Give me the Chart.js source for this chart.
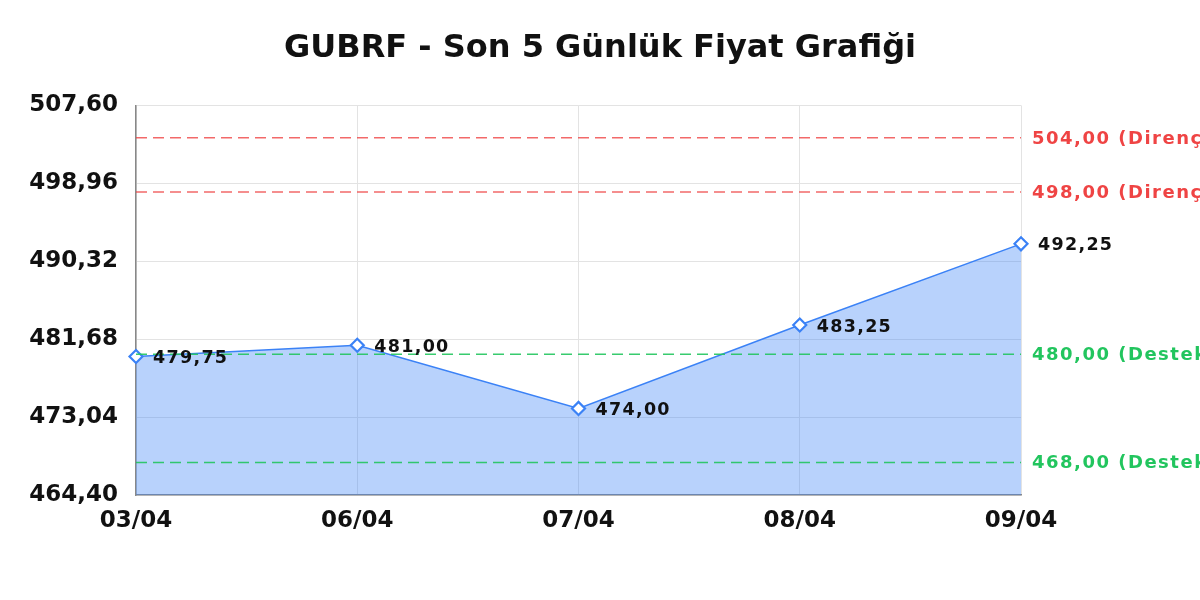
<!DOCTYPE html>
<html>
<head>
<meta charset="utf-8">
<script src="https://cdn.jsdelivr.net/npm/chart.js@4"></script>
<style>
html,body{margin:0;padding:0;background:#fff;}
#wrap{width:1200px;height:600px;}
</style>
</head>
<body>
<div id="wrap"><canvas id="c" width="1200" height="600"></canvas></div>
<script>
const titleText = 'GUBRF - Son 5 Günlük Fiyat Grafiği';
const dates = ['03/04', '06/04', '07/04', '08/04', '09/04'];
const prices = [479.75, 481.00, 474.00, 483.25, 492.25];
const yTickValues = [464.40, 473.04, 481.68, 490.32, 498.96, 507.60];
const resistanceLevels = [504.00, 498.00];
const supportLevels = [480.00, 468.00];

const FONT = "'DejaVu Sans', sans-serif";
const fmt = v => v.toFixed(2).replace('.', ',');

const levelLines = [
  ...resistanceLevels.map(v => ({ value: v, label: fmt(v) + ' (Direnç)', color: '#ef4444', line: 'rgba(239,68,68,0.8)' })),
  ...supportLevels.map(v => ({ value: v, label: fmt(v) + ' (Destek)', color: '#22c55e', line: 'rgba(34,197,94,0.9)' }))
];

const overlayPlugin = {
  id: 'overlay',
  afterDatasetsDraw(chart) {
    const ctx = chart.ctx;
    const area = chart.chartArea;
    const y = chart.scales.y;
    ctx.save();
    levelLines.forEach(l => {
      const py = y.getPixelForValue(l.value);
      ctx.beginPath();
      ctx.setLineDash([11, 6]);
      ctx.lineWidth = 1.5;
      ctx.strokeStyle = l.line;
      ctx.moveTo(area.left, py);
      ctx.lineTo(area.right, py);
      ctx.stroke();
      ctx.setLineDash([]);
      ctx.font = 'bold 18px ' + FONT;
      if ('letterSpacing' in ctx) ctx.letterSpacing = '1.5px';
      ctx.fillStyle = l.color;
      ctx.textAlign = 'left';
      ctx.textBaseline = 'middle';
      ctx.fillText(l.label, area.right + 11, py + 1);
    });
    const meta = chart.getDatasetMeta(0);
    ctx.font = 'bold 17.5px ' + FONT;
    if ('letterSpacing' in ctx) ctx.letterSpacing = '1.3px';
    ctx.fillStyle = '#111';
    ctx.textAlign = 'left';
    ctx.textBaseline = 'middle';
    meta.data.forEach((pt, i) => {
      ctx.fillText(fmt(prices[i]), pt.x + 17, pt.y + 2);
    });
    if ('letterSpacing' in ctx) ctx.letterSpacing = '0px';
    ctx.restore();
  }
};

new Chart(document.getElementById('c'), {
  type: 'line',
  data: {
    labels: dates,
    datasets: [{
      data: prices,
      yAxisID: 'y',
      borderColor: '#3b82f6',
      borderWidth: 1.5,
      backgroundColor: 'rgba(59,130,246,0.36)',
      fill: 'start',
      tension: 0,
      pointStyle: 'rectRot',
      pointRadius: 6.5,
      pointBorderWidth: 2.2,
      pointBackgroundColor: '#ffffff',
      pointBorderColor: '#3b82f6'
    }]
  },
  options: {
    responsive: false,
    animation: false,
    devicePixelRatio: 1,
    layout: { padding: { left: 0, right: 0, top: 0, bottom: 60 } },
    plugins: {
      legend: { display: false },
      tooltip: { enabled: false },
      title: {
        display: true,
        text: titleText,
        color: '#111',
        font: { family: FONT, size: 32, weight: 'bold' },
        padding: { top: 29, bottom: 38 }
      }
    },
    scales: {
      x: {
        offset: false,
        grid: { color: '#e3e3e3', drawTicks: false },
        border: { color: '#888', width: 1.5 },
        ticks: {
          color: '#111',
          padding: 12,
          font: { family: FONT, size: 23, weight: 'bold' },
          maxRotation: 0
        },
        afterFit(scale) { scale.height = 45; }
      },
      y: {
        min: yTickValues[0],
        max: yTickValues[yTickValues.length - 1],
        grid: { color: '#e3e3e3', drawTicks: false },
        border: { color: '#888', width: 1.5 },
        afterBuildTicks(scale) {
          scale.ticks = yTickValues.map(v => ({ value: v }));
        },
        ticks: {
          color: '#111',
          padding: 18,
          font: { family: FONT, size: 23, weight: 'bold' },
          callback: v => fmt(v)
        },
        afterFit(scale) { scale.width = 136; }
      },
      yRight: {
        position: 'right',
        min: yTickValues[0],
        max: yTickValues[yTickValues.length - 1],
        grid: { display: false, drawTicks: false },
        border: { display: false },
        ticks: { display: false },
        afterFit(scale) { scale.width = 179; }
      }
    }
  },
  plugins: [overlayPlugin]
});
</script>
</body>
</html>
